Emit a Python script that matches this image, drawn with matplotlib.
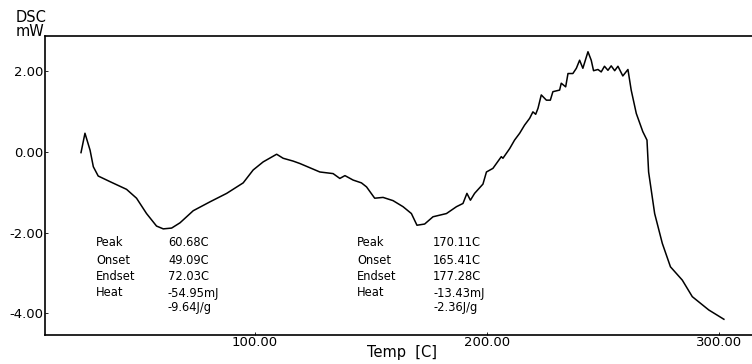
import matplotlib
matplotlib.use("Agg")
import matplotlib.pyplot as plt
from matplotlib.ticker import FixedLocator, FormatStrFormatter

plt.rcParams['font.family'] = ['DejaVu Sans']
plt.rcParams['axes.unicode_minus'] = False

temp = [25.2, 26.9, 29.1, 30.5, 32.6, 37.7, 44.8, 49.1, 53.4, 57.7, 60.6, 64.2,
        67.8, 73.5, 80.7, 87.9, 95.0, 99.3, 103.6, 109.4, 112.2, 116.5, 119.4,
        128.0, 133.7, 136.6, 138.8, 142.3, 145.9, 148.1, 151.6, 155.2, 159.5,
        163.8, 167.4, 169.8, 173.1, 176.7, 182.5,
        186.8, 189.6, 191.3, 192.8, 194.6, 198.2, 199.7, 202.5, 206.1, 206.8,
        209.7, 211.8, 214.0, 216.1, 218.3, 219.7, 220.9, 221.9, 223.3, 225.5,
        227.2, 228.3, 231.2, 231.9, 233.8, 234.8, 236.9, 238.4, 239.8, 241.2,
        243.4, 244.8, 245.8, 247.7, 249.1, 250.5, 252.0, 253.4, 254.9, 256.3,
        258.4, 260.6, 262.0, 264.2, 267.0, 268.8, 269.5,
        272.1, 275.4, 278.9, 284.0, 288.3, 295.4, 301.9]
dsc = [-0.02, 0.46, 0.04, -0.37, -0.60, -0.74, -0.93, -1.15, -1.53, -1.84, -1.91,
       -1.89, -1.76, -1.46, -1.24, -1.03, -0.77, -0.45, -0.25, -0.06, -0.16,
       -0.23, -0.29, -0.50, -0.54, -0.66, -0.59, -0.70, -0.77, -0.87, -1.15,
       -1.13, -1.21, -1.36, -1.53, -1.82, -1.79, -1.61, -1.53,
       -1.36, -1.28, -1.03, -1.20, -1.03, -0.80, -0.50, -0.41, -0.12, -0.16,
       0.08, 0.29, 0.46, 0.66, 0.83, 0.99, 0.93, 1.08, 1.41, 1.28,
       1.28, 1.49, 1.53, 1.70, 1.61, 1.94, 1.94, 2.07, 2.27, 2.07,
       2.48, 2.27, 2.01, 2.04, 1.98, 2.12, 2.02, 2.13, 2.01, 2.12,
       1.88, 2.04, 1.53, 0.95, 0.50, 0.29, -0.50,
       -1.53, -2.27, -2.85, -3.18, -3.59, -3.92, -4.15]

x_ticks = [100, 200, 300]
y_ticks = [2, 0, -2, -4]

peak1_labels = ["Peak", "Onset", "Endset", "Heat", ""]
peak1_values = ["60.68C", "49.09C", "72.03C", "-54.95mJ", "-9.64J/g"]
peak2_labels = ["Peak", "Onset", "Endset", "Heat", ""]
peak2_values = ["170.11C", "165.41C", "177.28C", "-13.43mJ", "-2.36J/g"]

W, H = 752, 364
fig = plt.figure(figsize=(W / 100, H / 100), dpi=100)
ax = fig.add_axes([45 / W, 29 / H, 1 - 45 / W, (335 - 36) / H])

ax.plot(temp, dsc, color='black', lw=1.1)

ax.set_xlim(9.7, 314)
ax.set_ylim(-4.54, 2.87)
ax.spines['right'].set_visible(False)
for s in ['left', 'bottom', 'top']:
    ax.spines[s].set_linewidth(1.2)

ax.xaxis.set_major_locator(FixedLocator(x_ticks))
ax.yaxis.set_major_locator(FixedLocator(y_ticks))
ax.xaxis.set_major_formatter(FormatStrFormatter('%.2f'))
ax.yaxis.set_major_formatter(FormatStrFormatter('%.2f'))
ax.tick_params(axis='both', direction='in', length=2, width=0.6, labelsize=9.5, pad=1)

fs = 8.3
fs2 = 10.5
fig.text(16 / W, 1 - 10 / H, "DSC", fontsize=fs2, va='top', ha='left')
fig.text(16 / W, 1 - 24 / H, "mW", fontsize=fs2, va='top', ha='left')
fig.text(402 / W, 1 - 352 / H, "Temp  [C]", fontsize=fs2, va='center', ha='center')

rows_y = [243, 260, 277, 293, 307]
for i, y in enumerate(rows_y):
    fig.text(96 / W, 1 - y / H, peak1_labels[i], fontsize=fs, va='center', ha='left')
    fig.text(168 / W, 1 - y / H, peak1_values[i], fontsize=fs, va='center', ha='left')
    fig.text(357 / W, 1 - y / H, peak2_labels[i], fontsize=fs, va='center', ha='left')
    fig.text(433 / W, 1 - y / H, peak2_values[i], fontsize=fs, va='center', ha='left')

fig.savefig("out.png", dpi=100)
